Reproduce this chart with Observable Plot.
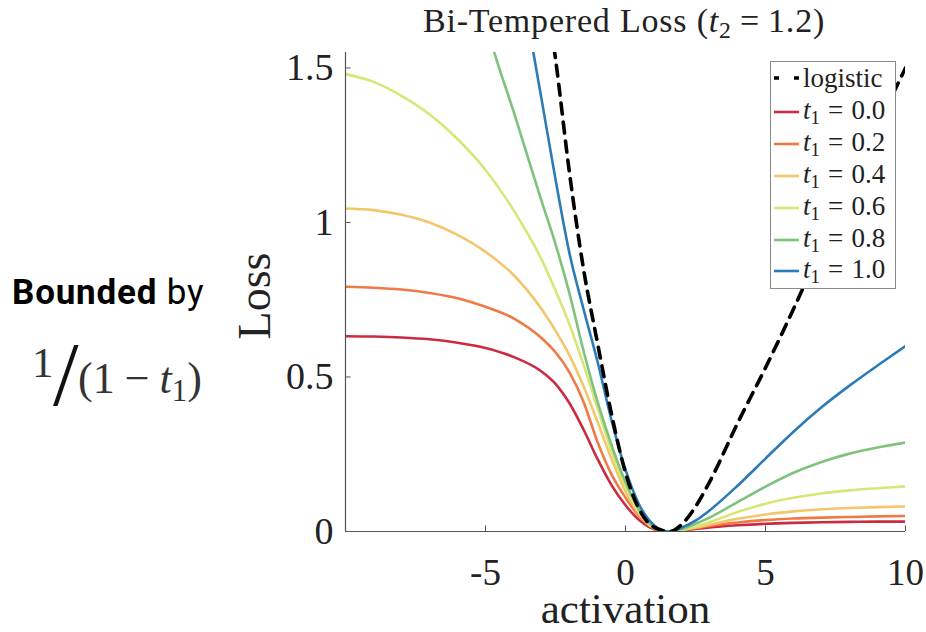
<!DOCTYPE html>
<html><head><meta charset="utf-8">
<script src="https://cdn.jsdelivr.net/npm/d3@7"></script>
<script src="https://cdn.jsdelivr.net/npm/@observablehq/plot@0.6"></script>
<style>
body{margin:0;background:#fff;}
#wrap{position:relative;width:926px;height:632px;overflow:hidden;font-family:"Liberation Serif",serif;color:#222;background:#fff;}
#wrap > svg{position:absolute;left:0;top:0;}
.abs{position:absolute;white-space:nowrap;line-height:1;}
.mi{font-style:italic;}
.sub{font-size:0.7em;vertical-align:-0.25em;}
.eq{margin:0 0.24em;}
#legend .eq{margin:0 0.3em;}
#legend{position:absolute;left:770px;top:61px;width:124px;height:226px;border:1px solid #8a8a8a;background:#fff;}
.row{position:absolute;left:0;height:32px;display:flex;align-items:center;font-size:27px;white-space:nowrap;}
.row svg{margin-left:2px;margin-right:4px;}
</style></head><body><div id="wrap"></div>
<script>
// ---- data ----
const xTicks = [-5, 0, 5, 10];
const yTicks = [0, 0.5, 1, 1.5];
const t1Labels = ["0.0", "0.2", "0.4", "0.6", "0.8", "1.0"];
const seriesColors = ["#cc2a40", "#ef7a45", "#f3c66c", "#d7e677", "#7ec27c", "#2b7bb7"];

const xCommon = [-10, -9, -8, -7, -6, -5, -4, -3, -2.5, -2, -1.5, -1, -0.5, 0, 0.5, 1, 1.5, 2, 2.5, 3, 4, 5, 6, 7, 8, 9, 10];
const lossT00 = [0.632, 0.631, 0.628, 0.622, 0.611, 0.594, 0.565, 0.518, 0.478, 0.415, 0.33, 0.235, 0.15, 0.085, 0.036, 0.008, 0.0, 0.003, 0.008, 0.013, 0.02, 0.025, 0.028, 0.030, 0.031, 0.032, 0.032];
const lossT02 = [0.792, 0.789, 0.783, 0.772, 0.755, 0.727, 0.69, 0.626, 0.58, 0.515, 0.42, 0.29, 0.185, 0.11, 0.048, 0.011, 0.0, 0.004, 0.011, 0.018, 0.029, 0.037, 0.042, 0.045, 0.047, 0.049, 0.05];
const lossT04 = [1.045, 1.04, 1.025, 1.0, 0.96, 0.905, 0.83, 0.72, 0.65, 0.57, 0.47, 0.355, 0.235, 0.13, 0.055, 0.012, 0.0, 0.005, 0.013, 0.022, 0.041, 0.055, 0.065, 0.072, 0.076, 0.079, 0.081];
const lossT06 = [1.48, 1.455, 1.41, 1.35, 1.27, 1.17, 1.04, 0.88, 0.78, 0.67, 0.54, 0.40, 0.26, 0.145, 0.06, 0.013, 0.0, 0.006, 0.016, 0.03, 0.063, 0.09, 0.109, 0.123, 0.133, 0.14, 0.146];

const xT08 = [-4.9, -4.7, -4, -3.5, -3, -2.5, -2, -1.5, -1, -0.5, 0, 0.5, 1, 1.5, 2, 2.5, 3, 4, 5, 6, 7, 8, 9, 10];
const lossT08 = [1.62, 1.555, 1.36, 1.215, 1.07, 0.93, 0.77, 0.585, 0.42, 0.28, 0.16, 0.068, 0.016, 0.0, 0.008, 0.025, 0.045, 0.095, 0.145, 0.19, 0.225, 0.252, 0.272, 0.288];

const xT10 = [-3.4, -3.3, -3, -2.5, -2, -1.5, -1, -0.5, 0, 0.5, 1, 1.5, 2, 2.5, 3, 4, 5, 6, 7, 8, 9, 10];
const lossT10 = [1.61, 1.555, 1.40, 1.14, 0.90, 0.72, 0.55, 0.36, 0.2, 0.085, 0.022, 0.0, 0.012, 0.035, 0.068, 0.148, 0.236, 0.323, 0.402, 0.472, 0.537, 0.60];

const xLogistic = [-2.65, -2.5, -2, -1.5, -1, -0.5, 0, 0.5, 1, 1.6, 2, 2.5, 3, 4, 5, 6, 7, 8, 9, 10];
const lossLogistic = [1.63, 1.53, 1.16, 0.85, 0.61, 0.38, 0.19, 0.07, 0.015, 0.0, 0.022, 0.08, 0.16, 0.35, 0.53, 0.72, 0.92, 1.11, 1.31, 1.50];

// ---- build tables ----
const seriesX = [xCommon, xCommon, xCommon, xCommon, xT08, xT10];
const seriesY = [lossT00, lossT02, lossT04, lossT06, lossT08, lossT10];
const curves = seriesY.map((ys, i) => ys.map((y, j) => ({x: seriesX[i][j], y})));
const logistic = lossLogistic.map((y, j) => ({x: xLogistic[j], y}));

const X0 = -10, X1 = 10, Y0 = 0, Y1 = 1.55;

const plot = Plot.plot({
  width: 926, height: 632,
  marginLeft: 345, marginRight: 21, marginTop: 52, marginBottom: 101,
  x: {domain: [X0, X1]},
  y: {domain: [Y0, Y1]},
  style: {fontFamily: "Liberation Serif, serif", color: "#222", background: "transparent", overflow: "visible"},
  marks: [
    ...curves.map((c, i) => Plot.line(c, {x: "x", y: "y", stroke: seriesColors[i], strokeWidth: 2.6, curve: "monotone-x", clip: true})),
    Plot.line(logistic, {x: "x", y: "y", stroke: "#000", strokeWidth: 3.6, strokeDasharray: "11,8", curve: "monotone-x", clip: true}),
    Plot.ruleY([0], {x1: X0, x2: X1, stroke: "#555", strokeWidth: 1.2}),
    Plot.ruleX([X0], {y1: Y0, y2: Y1, stroke: "#555", strokeWidth: 1.2}),
    Plot.ruleX(xTicks, {x: d => d, y1: 0, y2: 0.018, stroke: "#555", strokeWidth: 1}),
    Plot.ruleY(yTicks, {y: d => d, x1: X0, x2: X0 + 0.2, stroke: "#555", strokeWidth: 1}),
    Plot.axisX({ticks: xTicks, tickSize: 0, tickPadding: 27, fontSize: 37, tickFormat: d => String(d), label: null}),
    Plot.axisY({ticks: yTicks, tickSize: 0, tickPadding: 12, fontSize: 38, tickFormat: d => String(d), label: null}),
    Plot.text(["activation"], {frameAnchor: "bottom", textAnchor: "middle", dy: 78, fontSize: 43, lineAnchor: "middle"}),
    Plot.text(["Loss"], {frameAnchor: "left", textAnchor: "middle", dx: -90, dy: 4, rotate: -90, fontSize: 46, lineAnchor: "middle"})
  ]
});
const wrap = document.getElementById("wrap");
wrap.appendChild(plot);

// title
const title = document.createElement("div");
title.className = "abs";
title.style.cssText = "left:624px;top:4px;transform:translateX(-50%);font-size:34px;letter-spacing:0.8px;";
title.innerHTML = 'Bi-Tempered Loss (<span class="mi">t</span><span class="sub">2</span><span class="eq">=</span>1.2)';
wrap.appendChild(title);

// side annotation
const bounded = document.createElement("div");
bounded.className = "abs";
bounded.style.cssText = "left:12px;top:275px;font-family:Roboto,sans-serif;font-size:35px;letter-spacing:0.8px;color:#000;";
bounded.innerHTML = '<b>Bounded</b> by';
wrap.appendChild(bounded);

const num = document.createElement("div");
num.className = "abs";
num.style.cssText = "left:32px;top:341px;font-size:43px;color:#333;";
num.textContent = "1";
wrap.appendChild(num);
const slash = document.createElement("div");
slash.className = "abs";
slash.style.cssText = "left:53px;top:328px;font-size:92px;color:#111;";
slash.textContent = "/";
wrap.appendChild(slash);
const den = document.createElement("div");
den.className = "abs";
den.style.cssText = "left:78px;top:357px;font-size:44px;color:#333;";
den.innerHTML = '(1<span style="margin:0 10px">−</span><span class="mi">t</span><span class="sub">1</span>)';
wrap.appendChild(den);

// legend
const legend = document.createElement("div");
legend.id = "legend";
const rowCenters = [16, 50, 82, 114, 146, 178, 209];
const entries = [{label: "logistic", color: "#000", dash: true}].concat(t1Labels.map((t, i) => ({t, color: seriesColors[i]})));
entries.forEach((e, i) => {
  const r = document.createElement("div");
  r.className = "row";
  r.style.top = (rowCenters[i] - 16) + "px";
  const sw = e.dash
    ? `<svg width="26" height="10"><line x1="1" y1="5" x2="26" y2="5" stroke="#000" stroke-width="3.4" stroke-dasharray="5,15"/></svg>`
    : `<svg width="26" height="10"><line x1="1" y1="5" x2="26" y2="5" stroke="${e.color}" stroke-width="2.6"/></svg>`;
  r.innerHTML = sw + (e.dash ? '<span>logistic</span>' : `<span><span class="mi">t</span><span class="sub">1</span><span class="eq">=</span>${e.t}</span>`);
  legend.appendChild(r);
});
wrap.appendChild(legend);
</script>
</body></html>
